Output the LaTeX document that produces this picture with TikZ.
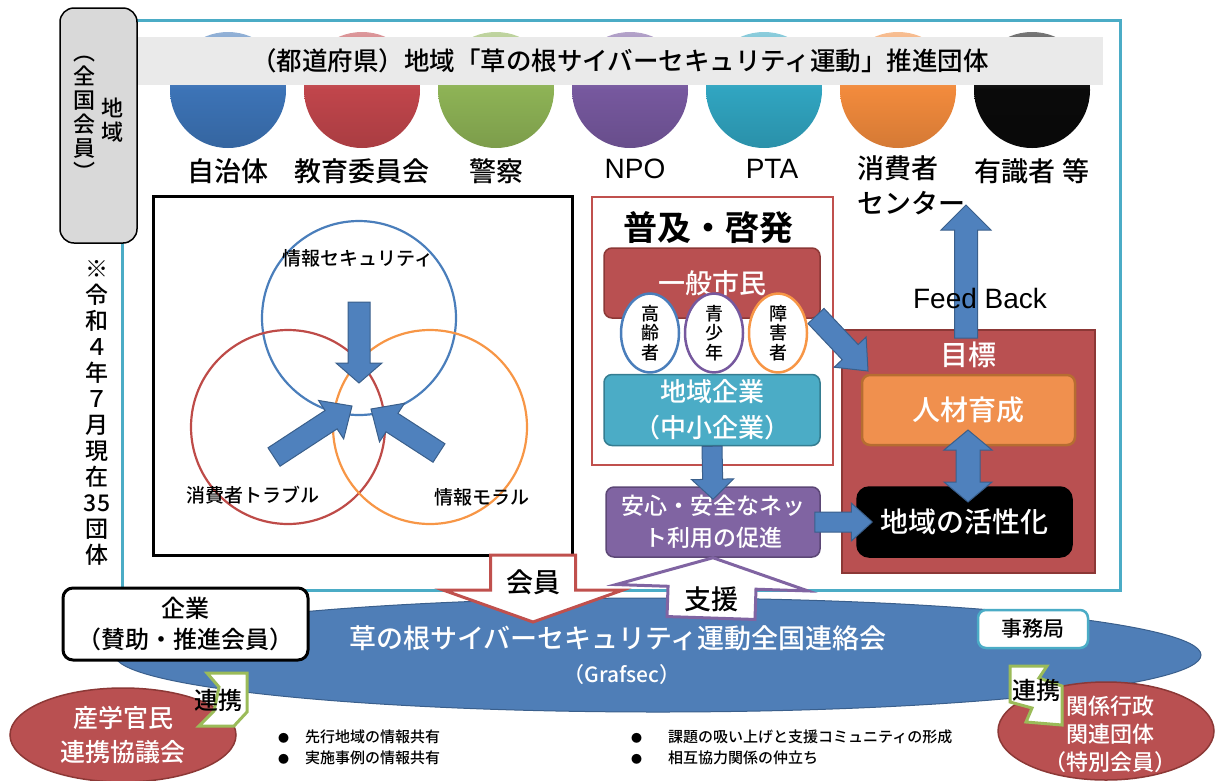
\documentclass[tikz,border=0pt]{standalone}
\usepackage{fontspec}
\IfFontExistsTF{Noto Sans CJK JP Medium}
  {\setmainfont{Noto Sans CJK JP Medium}[BoldFont=Noto Sans CJK JP Bold]}
  {\setmainfont{Noto Sans CJK JP}}
\newfontfamily\arialfont{Liberation Sans}
\usetikzlibrary{calc,shapes.geometric}

\definecolor{frameTeal}{HTML}{4BACC6}
\definecolor{barGray}{HTML}{EAEAEA}
\definecolor{boxGray}{HTML}{D9D9D9}
\definecolor{dotBlue}{HTML}{3C73B6}
\definecolor{dotRed}{HTML}{C0454B}
\definecolor{dotGreen}{HTML}{8DB255}
\definecolor{dotPurple}{HTML}{76589E}
\definecolor{dotTeal}{HTML}{30A4C0}
\definecolor{dotOrange}{HTML}{F18A3C}
\definecolor{dotBlack}{HTML}{0A0A0A}
\definecolor{arrowBlue}{HTML}{4F81BD}
\definecolor{arrowEdge}{HTML}{3A5F8B}
\definecolor{vennBlue}{HTML}{4A7EBB}
\definecolor{vennRed}{HTML}{BE4B48}
\definecolor{vennOrange}{HTML}{F79646}
\definecolor{ppRed}{HTML}{B95051}
\definecolor{ppRedEdge}{HTML}{8C3836}
\definecolor{ppOrange}{HTML}{F0904E}
\definecolor{ppOrangeEdge}{HTML}{B66D31}
\definecolor{ppTeal}{HTML}{4BACC6}
\definecolor{ppTealEdge}{HTML}{357D91}
\definecolor{ppPurple}{HTML}{8064A2}
\definecolor{ppPurpleEdge}{HTML}{5C4776}
\definecolor{netBlue}{HTML}{4F7EB7}
\definecolor{netEdge}{HTML}{3A5F8C}
\definecolor{linkGreen}{HTML}{9BBB59}
\definecolor{outRed}{HTML}{C0504D}

% block arrow: [style]{from}{to}{half shaft}{half head}{head length}
\newcommand{\fatarrow}[6][fat]{%
  \coordinate (fa-b) at ($(#3)!#6!(#2)$);
  \filldraw[#1] ($(#2)!#4!90:(#3)$) -- ($(fa-b)!#4!-90:(#2)$) -- ($(fa-b)!#5!-90:(#2)$) -- (#3)
    -- ($(fa-b)!#5!90:(#2)$) -- ($(fa-b)!#4!90:(#2)$) -- ($(#2)!#4!-90:(#3)$) -- cycle;}
\newcommand{\fatdouble}[6][fat]{%
  \coordinate (fd-a) at ($(#2)!#6!(#3)$);
  \coordinate (fd-b) at ($(#3)!#6!(#2)$);
  \filldraw[#1] (#2) -- ($(fd-a)!#5!90:(#3)$) -- ($(fd-a)!#4!90:(#3)$) -- ($(fd-b)!#4!-90:(#2)$)
    -- ($(fd-b)!#5!-90:(#2)$) -- (#3) -- ($(fd-b)!#5!90:(#2)$) -- ($(fd-b)!#4!90:(#2)$)
    -- ($(fd-a)!#4!-90:(#3)$) -- ($(fd-a)!#5!-90:(#3)$) -- cycle;}

\begin{document}
\begin{tikzpicture}[x=1pt,y=-1pt,
	every node/.style={inner sep=0pt},
	disc/.style={circle, minimum size=116, top color=#1!55!white, bottom color=#1!88!black, middle color=#1},
	headbar/.style={fill=barGray, minimum width=966, minimum height=48, font=\fontsize{25.5}{29}\selectfont},
	orglabel/.style={font=\fontsize{27}{35}\selectfont},
	latinlabel/.style={font=\arialfont\fontsize{28}{32}\selectfont},
	graybox/.style={draw, line width=1.5pt, fill=boxGray, rounded corners=14pt, minimum width=77, minimum height=235},
	vtext/.style={align=center, font=\fontsize{22}{24}\selectfont},
	ring/.style={circle, draw=#1, line width=2.2pt, minimum size=194},
	venntext/.style={font=\fontsize{19}{22}\selectfont},
	ppbox/.style={rounded corners=8pt, minimum width=216, minimum height=70, align=center, text=white, line width=1.5pt},
	age/.style={ellipse, minimum width=58, minimum height=62, fill=white, line width=2.5pt, align=center, font=\fontsize{18}{19.5}\selectfont},
	fat/.style={fill=arrowBlue, draw=arrowEdge, line width=1pt},
	memberarrow/.style={fill=white, draw=outRed, line width=3pt},
	supportarrow/.style={fill=white, draw=ppPurple, line width=3pt},
	linkshape/.style={fill=white, draw=linkGreen, line width=3pt},
	bullets/.style={anchor=west, align=left, font=\fontsize{15}{21}\selectfont}]

	\useasboundingbox (0,0) rectangle (1223,780);

	\draw[frameTeal, line width=3pt] (122,20) rectangle (1120,590);

	\foreach \cx/\col [count=\i] in {228/dotBlue,362/dotRed,496/dotGreen,630/dotPurple,764/dotTeal,898/dotOrange,1032/dotBlack}
		\node[disc=\col] (org\i) at (\cx,90) {};
	\node[headbar] (head) at (620,61) {（都道府県）地域「草の根サイバーセキュリティ運動」推進団体};

	\node[orglabel] (lab1) at (228,171) {自治体};
	\node[orglabel] (lab2) at (362,171) {教育委員会};
	\node[orglabel] (lab3) at (496,171) {警察};
	\node[latinlabel] (lab4) at (635,169) {NPO};
	\node[latinlabel] (lab5) at (772,169) {PTA};
	\node[orglabel, anchor=north west, align=left] (lab6) at (857,155) {消費者\\センター};
	\node[orglabel] (lab7) at (1032,171) {有識者 等};

	\node[graybox] (zenkoku) at (98.5,125.5) {};
	\node[vtext] (zenkokuA) at (112,120) {地\\域};
	\node[vtext] (zenkokuB) at (84,118) {︵\\全\\国\\会\\員\\︶};
	\node[vtext, font=\fontsize{23}{26}\selectfont] (asof) at (97,413) {※\\令\\和\\４\\年\\７\\月\\現\\在\\35\\団\\体};

	\node[draw, line width=3pt, minimum width=419, minimum height=359] (venn) at (362.5,375.5) {};
	\node[ring=vennBlue] (secC) at (359,318) {};
	\node[ring=vennRed] (troubleC) at (288,427) {};
	\node[ring=vennOrange] (moralC) at (430,427) {};
	\node[venntext] (secLabel) at (358,258) {情報セキュリティ};
	\node[venntext] (troubleLabel) at (253,495) {消費者トラブル};
	\node[venntext] (moralLabel) at (482,497) {情報モラル};
	\coordinate (secIn) at (359,302);
	\coordinate (secTip) at (359,383);
	\coordinate (troubleIn) at (274,457);
	\coordinate (troubleTip) at (352,406);
	\coordinate (moralIn) at (439,453);
	\coordinate (moralTip) at (371,409);
	\fatarrow{secIn}{secTip}{11pt}{23pt}{20pt}
	\fatarrow{troubleIn}{troubleTip}{11pt}{23pt}{25pt}
	\fatarrow{moralIn}{moralTip}{11pt}{23pt}{25pt}

	\node[draw=outRed, line width=2pt, fill=white, minimum width=241, minimum height=268] (fukyu) at (712.5,331) {};
	\node[font=\bfseries\fontsize{34}{38}\selectfont] (fukyuTitle) at (708,228) {普及・啓発};
	\node[ppbox, fill=ppRed, draw=ppRedEdge, font=\fontsize{27}{31}\selectfont] (ippan) at (712,283) {一般市民};
	\node[age, draw=vennBlue] (koreisha) at (650,333) {高\\齢\\者};
	\node[age, draw=dotPurple] (seishonen) at (714,333) {青\\少\\年};
	\node[age, draw=vennOrange] (shogaisha) at (778,333) {障\\害\\者};
	\node[ppbox, fill=ppTeal, draw=ppTealEdge, minimum height=71, font=\fontsize{26}{36}\selectfont] (chusho) at (712,410) {地域企業\\（中小企業）};
	\node[ppbox, fill=ppPurple, draw=ppPurpleEdge, minimum width=214, font=\fontsize{23}{32}\selectfont] (anshin) at (713,522) {安心・安全なネッ\\ト利用の促進};

	\node[draw=ppRedEdge, fill=ppRed, line width=1.5pt, minimum width=253, minimum height=243] (mokuhyo) at (968.5,451.5) {};
	\node[text=white, font=\fontsize{28}{32}\selectfont] (mokuhyoLabel) at (968,355) {目標};
	\node[ppbox, fill=ppOrange, draw=ppOrangeEdge, line width=2.5pt, minimum width=213, font=\fontsize{28}{32}\selectfont] (jinzai) at (968.5,410) {人材育成};
	\node[ppbox, fill=black, draw=black, minimum width=215, rounded corners=12pt, font=\fontsize{28}{32}\selectfont] (kasseika) at (964.5,522) {地域の活性化};

	\coordinate (ippanOut) at (816,316);
	\coordinate (mokuhyoIn) at (868,371);
	\fatarrow{ippanOut}{mokuhyoIn}{11pt}{22pt}{26pt}
	\coordinate (chushoOut) at (chusho.south);
	\coordinate (anshinIn) at ($(anshin.north)+(0,13)$);
	\fatarrow{chushoOut}{anshinIn}{10pt}{21pt}{20pt}
	\coordinate (anshinOut) at ($(anshin.east)+(-6,0)$);
	\coordinate (kasseikaIn) at ($(kasseika.west)+(16,0)$);
	\fatarrow{anshinOut}{kasseikaIn}{10pt}{19pt}{21pt}
	\coordinate (jinzaiEnd) at (968,430);
	\coordinate (kasseikaEnd) at (968,502);
	\fatdouble{jinzaiEnd}{kasseikaEnd}{12pt}{24pt}{20pt}
	\coordinate (mokuhyoTop) at (966,338);
	\coordinate (centerIn) at (966,205);
	\fatarrow{mokuhyoTop}{centerIn}{11.5pt}{25pt}{25pt}
	\node[latinlabel] (feedback) at (980,298) {Feed Back};

	\node[ellipse, fill=netBlue, draw=netEdge, line width=1pt, minimum width=1086, minimum height=114] (grafsec) at (658,655) {};
	\node[text=white, font=\fontsize{27}{31}\selectfont] (grafsecName) at (618,638) {草の根サイバーセキュリティ運動全国連絡会};
	\node[text=white, font=\fontsize{21}{25}\selectfont] (grafsecAbbr) at (622,675) {（Grafsec）};

	\coordinate (memberIn) at (533,555);
	\coordinate (memberTip) at (533,622);
	\fatarrow[memberarrow]{memberIn}{memberTip}{42.5pt}{90pt}{32pt}
	\node[font=\fontsize{27}{31}\selectfont] (memberLabel) at (533,582) {会員};
	\coordinate (supportIn) at (711,618);
	\coordinate (supportTip) at (anshin.south);
	\fatarrow[supportarrow]{supportIn}{supportTip}{44pt}{96pt}{30pt}
	\node[font=\fontsize{27}{31}\selectfont] (supportLabel) at (711,599) {支援};

	\node[draw, line width=3pt, fill=white, rounded corners=10pt, minimum width=245, minimum height=72, align=center, font=\fontsize{24}{31}\selectfont] (kigyo) at (185.5,624) {企業\\（賛助・推進会員）};
	\node[draw=frameTeal, line width=2.5pt, fill=white, rounded corners=8pt, minimum width=110, minimum height=38, font=\fontsize{21}{24}\selectfont] (jimu) at (1033,629) {事務局};

	\node[ellipse, fill=ppRed, draw=ppRedEdge, line width=1.5pt, minimum width=226, minimum height=94, text=white, align=center, font=\fontsize{25}{34}\selectfont] (sangaku) at (123,735) {産学官民\\連携協議会};
	\node[ellipse, fill=ppRed, draw=ppRedEdge, line width=1.5pt, minimum width=216, minimum height=98] (kankei) at (1106,731) {};
	\node[text=white, align=center, font=\fontsize{22}{28}\selectfont] (kankeiText) at (1110,734) {関係行政\\関連団体\\（特別会員）};

	\filldraw[linkshape] (207,673) -- (247,673) -- (247,712) -- (234,726) -- (199,726) -- (214,711) -- (219,687) -- cycle;
	\node[font=\fontsize{24}{28}\selectfont] (linkL) at (218,700) {連携};
	\filldraw[linkshape] (1010,666) -- (1047,666) -- (1039,678) -- (1062,686) -- (1062,725) -- (1026,722) -- (1032,708) -- (1010,702) -- cycle;
	\node[font=\fontsize{24}{28}\selectfont] (linkR) at (1036,690) {連携};

	\node[bullets] (listL) at (278,747) {\makebox[27pt][l]{\fontsize{11}{11}\selectfont ●}先行地域の情報共有\\\makebox[27pt][l]{\fontsize{11}{11}\selectfont ●}実施事例の情報共有};
	\node[bullets] (listR) at (631,747) {\makebox[37pt][l]{\fontsize{11}{11}\selectfont ●}課題の吸い上げと支援コミュニティの形成\\\makebox[37pt][l]{\fontsize{11}{11}\selectfont ●}相互協力関係の仲立ち};

\end{tikzpicture}
\end{document}
